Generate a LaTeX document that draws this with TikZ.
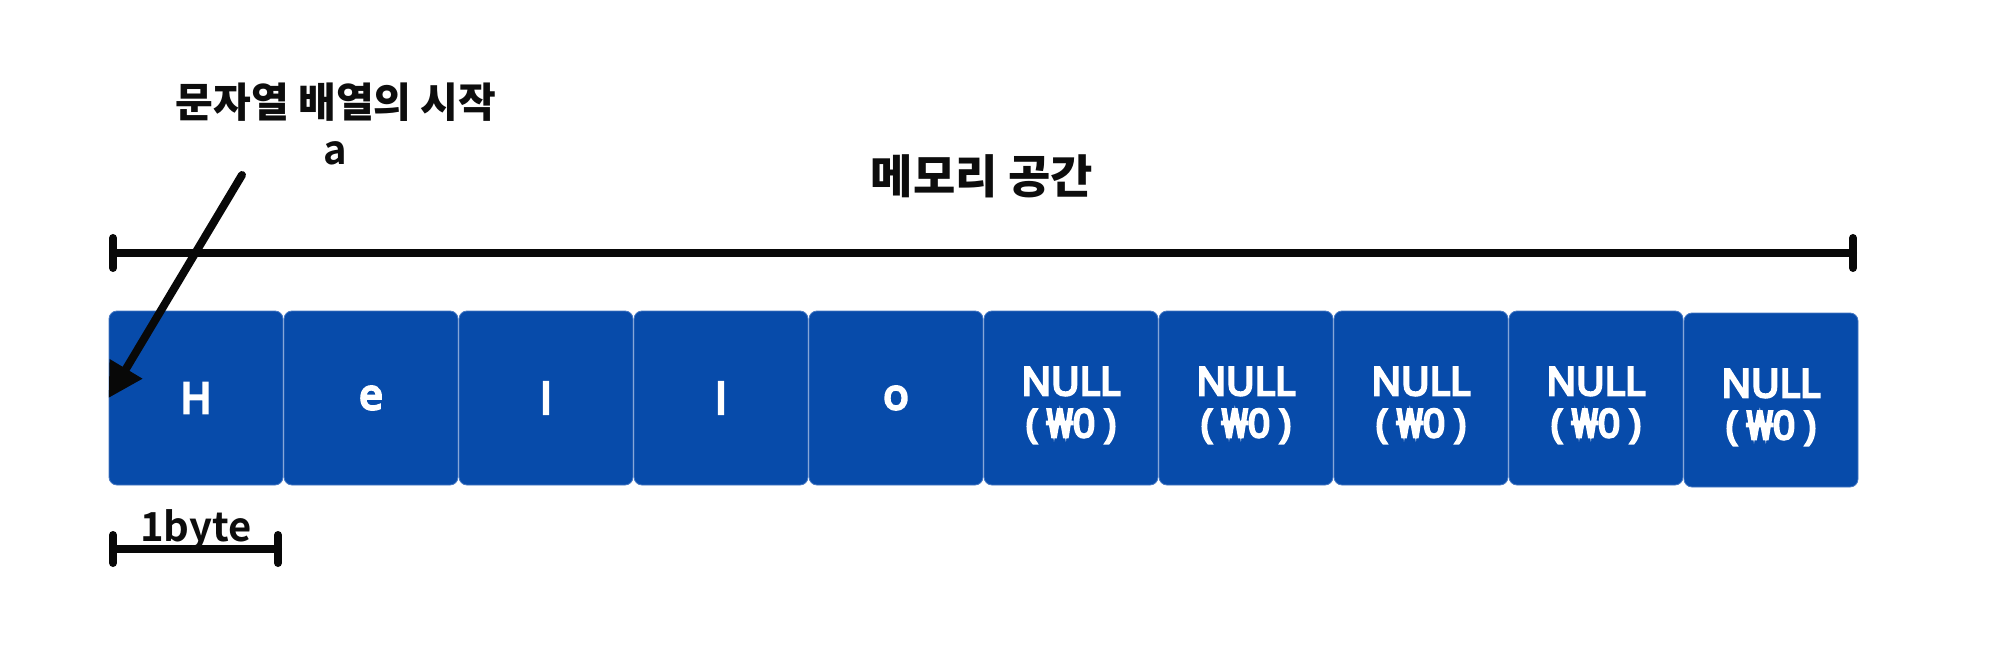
\documentclass[tikz,border=0pt]{standalone}
\usepackage{fontspec}
\usetikzlibrary{arrows.meta}
\newfontfamily\krb{Noto Sans CJK KR Bold}
\newfontfamily\krk{Noto Sans CJK KR Black}
\newfontfamily\lat{Noto Sans}[AutoFakeBold=6]
\definecolor{cellblue}{RGB}{7,75,170}
\definecolor{celledge}{RGB}{70,120,195}
\tikzset{
  cell/.style={fill=cellblue, draw=celledge, line width=0.8pt, rounded corners=8pt,
    minimum width=174pt, minimum height=174pt, inner sep=0pt, text=white,
    font=\lat\bfseries\fontsize{42}{46}\selectfont, align=center},
  nullcell/.style={cell, font=\lat\bfseries\fontsize{39}{42}\selectfont},
  bar/.style={line width=8pt, line cap=round, black!97},
  ptr/.style={line width=8pt, line cap=round, black!97, -{Triangle[length=34pt,width=36pt]}},
  lbl/.style={inner sep=0pt, text=black!95},
}
\newcommand{\nl}{\raisebox{-16pt}[0pt][0pt]{\begin{tabular}{@{}c@{}}NULL\\(\kern9pt₩0\kern9pt)\end{tabular}}}
\renewcommand{\arraystretch}{1}
\begin{document}
\begin{tikzpicture}[x=1pt,y=-1pt]
\path[fill=white] (0,0) rectangle (2000,647);
\useasboundingbox (0,0) rectangle (2000,647);
% cells
\node[cell] (c1) at (196,398) {H};
\node[cell] (c2) at (371,398) {e};
\node[cell] (c3) at (546,398) {l};
\node[cell] (c4) at (721,398) {l};
\node[cell] (c5) at (896,398) {o};
\node[nullcell] (c6) at (1071,398) {\nl};
\node[nullcell] (c7) at (1246,398) {\nl};
\node[nullcell] (c8) at (1421,398) {\nl};
\node[nullcell] (c9) at (1596,398) {\nl};
\node[nullcell] (c10) at (1771,400) {\nl};
% memory span
\node[lbl, font=\krk\fontsize{46}{50}\selectfont] (mem) at (982,176) {메모리 공간};
\coordinate (mL) at (113,253);
\coordinate (mR) at (1853,253);
\draw[bar] (mL) -- (mR);
\draw[bar] ([yshift=-15pt]mL) -- ([yshift=15pt]mL);
\draw[bar] ([yshift=-15pt]mR) -- ([yshift=15pt]mR);
% start label and pointer
\node[lbl, font=\krk\fontsize{41}{44}\selectfont] (start) at (336,102) {문자열 배열의 시작};
\node[lbl, font=\krb\fontsize{40}{44}\selectfont] (avar) at (335,153) {a};
\coordinate (aS) at (242,175);
\draw[ptr] (aS) -- (c1.west);
% 1byte
\coordinate (bL) at (113,549);
\coordinate (bR) at (278,549);
\draw[bar] (bL) -- (bR);
\draw[bar] ([yshift=-14pt]bL) -- ([yshift=14pt]bL);
\draw[bar] ([yshift=-14pt]bR) -- ([yshift=14pt]bR);
\node[lbl, font=\krb\fontsize{40}{44}\selectfont] (byte) at (196,530) {1byte};
\end{tikzpicture}
\end{document}
